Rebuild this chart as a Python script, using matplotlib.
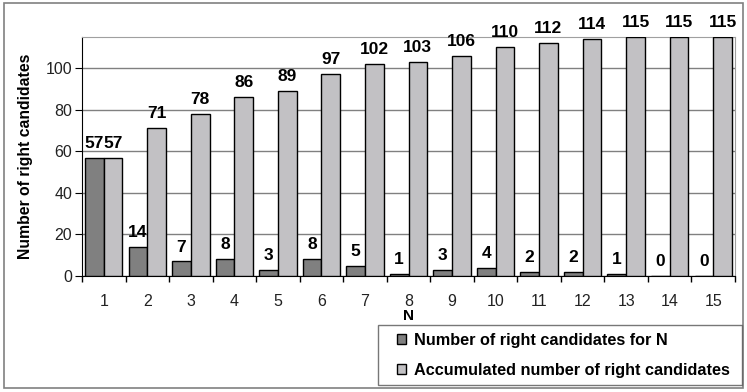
import matplotlib.pyplot as plt
import numpy as np
from matplotlib.patches import Rectangle
from matplotlib.legend_handler import HandlerPatch

plt.rcParams['font.family'] = ['Liberation Sans', 'DejaVu Sans']

# data
n_values = list(range(1, 16))
per_n = [57, 14, 7, 8, 3, 8, 5, 1, 3, 4, 2, 2, 1, 0, 0]
accumulated = [57, 71, 78, 86, 89, 97, 102, 103, 106, 110, 112, 114, 115, 115, 115]
series_names = ['Number of right candidates for N',
                'Accumulated number of right candidates']

W, H = 747, 392
fig = plt.figure(figsize=(W / 100, H / 100), dpi=100)
ax = fig.add_axes([82 / W, (H - 276) / H, (735 - 82) / W, (276 - 37) / H])

x = np.array(n_values)
bw = 0.43
b1 = ax.bar(x - bw / 2, per_n, bw, color='#808080', edgecolor='black',
            linewidth=1, zorder=3, label=series_names[0])
b2 = ax.bar(x + bw / 2, accumulated, bw, color='#c2c1c4', edgecolor='black',
            linewidth=1, zorder=3, label=series_names[1])

for bars, vals in ((b1, per_n), (b2, accumulated)):
    for r, v in zip(bars, vals):
        ax.annotate(str(v), (r.get_x() + r.get_width() / 2, v),
                    xytext=(0, 5), textcoords='offset points',
                    ha='center', va='bottom', fontsize=12.5, fontweight='bold')

ax.set_xlim(0.5, 15.5)
ax.set_ylim(0, 115)
ax.set_yticks([0, 20, 40, 60, 80, 100])
ax.set_xticks(x)
ax.set_xticks(np.arange(0.5, 16, 1), minor=True)
ax.tick_params(axis='x', which='major', length=0, pad=13, labelsize=11.5,
               labelcolor='#222222')
ax.tick_params(axis='x', which='minor', length=4, direction='out', width=1)
ax.tick_params(axis='y', length=5, direction='out', pad=2, labelsize=11.5,
               labelcolor='#222222')
ax.yaxis.grid(True, color='#808080', linewidth=1, zorder=0)
ax.set_axisbelow(True)

for s in ('top', 'right'):
    ax.spines[s].set_color('#a0a0a0')
for s in ('left', 'bottom'):
    ax.spines[s].set_color('black')

ax.set_xlabel('N', fontsize=11, fontweight='bold', labelpad=0)
ax.set_ylabel('Number of right candidates', fontsize=11.3, fontweight='bold', labelpad=9)


# small square legend keys sitting at the right of the handle box
def square_key(legend, orig_handle, xdescent, ydescent, width, height, fontsize):
    s = height * 0.85
    return Rectangle((width - s - xdescent, -ydescent + (height - s) / 2), s, s)


h1, h2 = b1.patches[0], b2.patches[0]
leg = fig.legend(handles=[h1, h2], labels=series_names, loc='lower left',
                 bbox_to_anchor=(378 / W, (H - 385) / H, (742 - 378) / W, 60 / H),
                 mode='expand', prop={'weight': 'bold', 'size': 11.7},
                 frameon=True, fancybox=False, edgecolor='#555555',
                 handler_map={h1: HandlerPatch(patch_func=square_key),
                              h2: HandlerPatch(patch_func=square_key)},
                 handlelength=1.3, handleheight=0.7, handletextpad=0.45,
                 labelspacing=0.93, borderpad=0.45, borderaxespad=0)
leg.get_frame().set_linewidth(1)

# outer chart border
fig.patches.append(Rectangle((4 / W, 4 / H), (743 - 4) / W, (389 - 4) / H,
                             transform=fig.transFigure, fill=False,
                             edgecolor='#808080', linewidth=1.2))

fig.savefig('out.png', dpi=100)
